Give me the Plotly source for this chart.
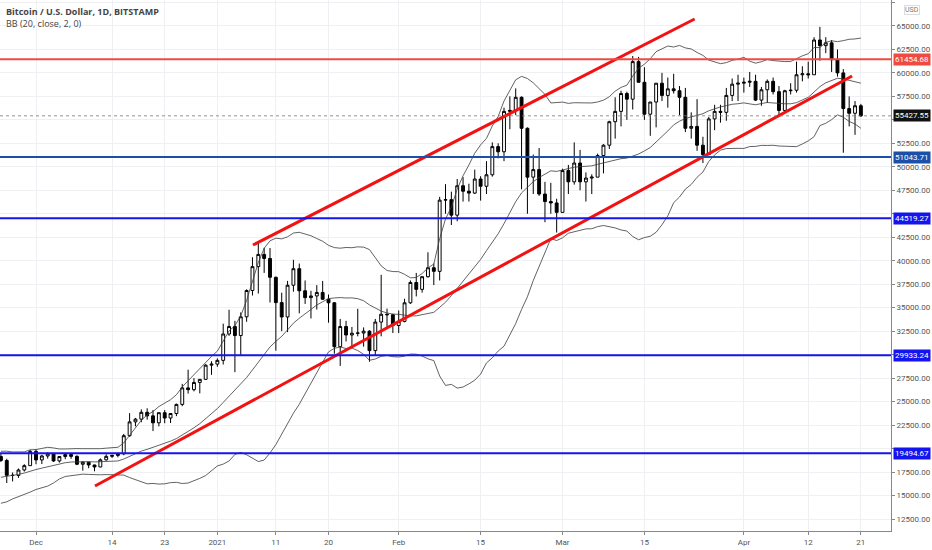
import pandas as pd
import plotly.graph_objects as go

# daily BTC/USD candles, 2020-11-25 .. 2021-04-21
opens = [
    19160, 18730, 17150, 17140, 17720, 18180,
    19700, 18790, 19210, 19440, 18680, 19150, 19360, 19170, 18330, 18550, 18250, 18040, 18800, 19170, 19270,
    19440, 21370, 22840, 23130, 23860, 23480, 22740, 23820, 23250, 23730, 24700, 26460, 26270, 27040, 27370, 28880,
    28990, 29390, 32200, 33000, 32030, 34030, 36830, 39370, 40670, 40240, 38240, 35540, 34010, 37390, 39150,
    36800, 36070, 36250, 36620, 35900, 35520, 30850, 33000, 32090, 32280, 32300, 32500, 30430, 33470, 34300, 34250,
    33100, 33540, 35520, 37680, 36950, 38300, 39250, 38870, 46450, 46500, 44850, 47980, 47400, 47200,
    48700, 47930, 49150, 52150, 51600, 55900, 56000, 57400, 54100, 48900, 49700, 47100, 46300, 46150,
    45150, 49600, 48400, 50400, 48400, 48800, 48900, 51200, 52300, 54800, 55900, 57800, 57200, 61200, 59000,
    55600, 56900, 58900, 57600, 58300, 58100, 57400, 54100, 54300, 52300, 51300, 55100, 55900, 55800, 57600, 58800,
    58900, 59000, 59100, 57100, 58200, 59100, 58000, 56000, 58100, 58150, 59800, 59900, 59800, 63500, 62900,
    63200, 61400, 60000, 56200, 55700, 56500,
]
highs = [
    19480, 18915, 17450, 17880, 18330, 19860,
    19920, 19330, 19600, 19510, 19180, 19420, 19420, 19280, 18650, 18560, 18280, 18950, 19400, 19340, 19560,
    21560, 23770, 23260, 24170, 24290, 24100, 23830, 24100, 23780, 24790, 26890, 28400, 27500, 27400, 28990, 29300,
    29600, 33300, 34780, 33600, 34500, 36950, 40370, 41950, 41380, 41350, 38300, 36600, 37850, 40100, 39700,
    37900, 36800, 37400, 37850, 36400, 35600, 33800, 33600, 32950, 34880, 32900, 32600, 33800, 38500, 34900, 34350,
    34700, 35950, 37900, 38700, 38300, 40900, 39700, 46800, 48150, 47350, 48700, 48900, 48200, 49700,
    49000, 50600, 52600, 52500, 56300, 57500, 58350, 57500, 54200, 51300, 52000, 48400, 48300, 46600,
    49800, 50200, 52600, 51800, 49400, 49200, 51400, 52400, 54900, 57400, 58100, 58000, 61800, 61700, 60600,
    56900, 58900, 60000, 59500, 59900, 58600, 58400, 55800, 57200, 53200, 55300, 56600, 56600, 58400, 59400, 59800,
    59500, 60100, 59800, 58500, 59300, 59500, 58600, 58200, 58900, 61200, 60700, 61200, 63800, 64900, 63800,
    63500, 62500, 60400, 57500, 57000, 56700,
]
lows = [
    18570, 16330, 16500, 16880, 17550, 18180,
    18330, 18350, 18930, 18580, 18510, 18870, 18910, 18230, 17650, 17910, 17580, 18020, 18720, 19000, 19070,
    19290, 21250, 22360, 22800, 23080, 21860, 22360, 22700, 22720, 23450, 24510, 25850, 26090, 25880, 27330, 27850,
    28700, 28950, 32000, 28130, 29900, 33500, 36300, 36500, 38700, 35550, 30420, 32500, 32400, 36700, 34400,
    35400, 33850, 34800, 35850, 33400, 30100, 28800, 31400, 30900, 31950, 30850, 29240, 29950, 31950, 32900, 32300,
    32300, 33440, 35400, 36200, 36600, 38200, 37400, 37900, 45000, 43800, 44200, 46300, 46300, 47100,
    46400, 47100, 48950, 50900, 50600, 54000, 55500, 47600, 45000, 47100, 46900, 44100, 45000, 43000,
    45100, 47100, 48100, 47500, 46300, 47100, 48900, 49300, 51900, 53000, 54300, 55000, 56100, 59000, 55000,
    53300, 54200, 57000, 56300, 57800, 55500, 53700, 53000, 51700, 50400, 51300, 53900, 54700, 54900, 57000, 57000,
    57900, 58500, 57000, 56500, 56800, 57700, 55500, 55800, 57700, 57900, 59100, 59400, 59800, 61300, 62100,
    60100, 59600, 51500, 54300, 53400, 55300,
]
closes = [
    18730, 17150, 17140, 17720, 18180, 19700,
    18790, 19210, 19440, 18680, 19150, 19360, 19170, 18330, 18550, 18250, 18040, 18800, 19170, 19270, 19440,
    21370, 22840, 23130, 23860, 23480, 22740, 23820, 23250, 23730, 24700, 26460, 26270, 27040, 27370, 28880, 28990,
    29390, 32200, 33000, 32030, 34030, 36830, 39370, 40670, 40240, 38240, 35540, 34010, 37390, 39150, 36800,
    36070, 36250, 36620, 35900, 35520, 30850, 33000, 32090, 32280, 32300, 32500, 30430, 33470, 34300, 34250, 33100,
    33540, 35520, 37680, 36950, 38300, 39250, 38870, 46450, 46500, 44850, 47980, 47400, 47200, 48700,
    47930, 49150, 52150, 51600, 55900, 56000, 57400, 54100, 48900, 49700, 47100, 46300, 46150, 45150,
    49600, 48400, 50400, 48400, 48800, 48900, 51200, 52300, 54800, 55900, 57800, 57200, 61200, 59000, 55600,
    56900, 58900, 57600, 58300, 58100, 57400, 54100, 54300, 52300, 51300, 55100, 55900, 55800, 57600, 58800, 58900,
    59000, 59100, 57100, 58200, 59100, 58000, 56000, 58100, 58150, 59800, 59900, 59800, 63500, 62900, 63200,
    61400, 60000, 56200, 55700, 56500, 55427.55,
]
# closes before the first visible candle, only needed for the bands
warmup_closes = [15580, 14830, 15480, 15330, 15300, 15700, 16280, 16330, 16070, 15960,
                 16720, 17660, 17800, 17820, 18660, 18700, 18420, 18370, 19160]

levels = [61454.68, 51043.71, 44519.27, 29933.24, 19494.67]
level_colors = ["#ef4a42", "#1b4fa8", "#1414ee", "#1414ee", "#1414ee"]
last_price = 55427.55

# trend channel (start, end)
upper_line_x = ["2021-01-07 02:00", "2021-03-23 14:00"]
upper_line_y = [41674, 65737]
lower_line_x = ["2020-12-11 02:00", "2021-04-19 12:00"]
lower_line_y = [16014, 59668]

tick_dates = ["2020-12-01", "2020-12-14", "2020-12-23", "2021-01-01", "2021-01-11", "2021-01-20",
              "2021-02-01", "2021-02-15", "2021-03-01", "2021-03-15", "2021-04-01", "2021-04-12", "2021-04-21"]
tick_text = ["Dec", "14", "23", "2021", "11", "20", "Feb", "15", "Mar", "15", "Apr", "12", "21"]

price_ticks = list(range(12500, 67501, 2500))
# labels hidden behind the level / last-price tags
hidden_ticks = [20000, 30000, 45000, 55000]
price_text = ["" if p in hidden_ticks else f"{p:.2f}" for p in price_ticks]

dates = pd.date_range("2020-11-25", periods=len(closes), freq="D")

# BB (20, close, 2)
s = pd.Series(warmup_closes + closes)
mid = s.rolling(20).mean()
sd = s.rolling(20).std(ddof=0)
n = len(warmup_closes)
bb_mid = mid[n:].values
bb_up = (mid + 2 * sd)[n:].values
bb_lo = (mid - 2 * sd)[n:].values

fig = go.Figure()

for band in (bb_up, bb_mid, bb_lo):
    fig.add_trace(go.Scatter(x=dates, y=band, mode="lines",
                             line=dict(color="#3a3a3a", width=0.8), hoverinfo="skip"))

fig.add_trace(go.Candlestick(
    x=dates, open=opens, high=highs, low=lows, close=closes,
    increasing=dict(fillcolor="white", line=dict(color="black", width=1)),
    decreasing=dict(fillcolor="black", line=dict(color="black", width=1)),
    whiskerwidth=0,
))

# dotted last-price line
fig.add_hline(y=last_price, line=dict(color="#777777", width=0.8, dash="dot"))

for lvl, col in zip(levels, level_colors):
    fig.add_hline(y=lvl, line=dict(color=col, width=2))
    fig.add_annotation(x=1, xref="paper", y=lvl, yref="y", xanchor="left", xshift=2,
                       text=f"{lvl:.2f}", showarrow=False, bgcolor=col, borderpad=1,
                       font=dict(color="white", size=8, family="Roboto"))

fig.add_annotation(x=1, xref="paper", y=last_price, yref="y", xanchor="left", xshift=2,
                   text=f"{last_price:.2f}", showarrow=False, bgcolor="#111111", borderpad=1,
                   font=dict(color="white", size=8, family="Roboto"))

for lx, ly in ((upper_line_x, upper_line_y), (lower_line_x, lower_line_y)):
    fig.add_trace(go.Scatter(x=lx, y=ly, mode="lines", line=dict(color="#f21212", width=3),
                             hoverinfo="skip"))

fig.add_annotation(x=0.005, xref="paper", y=0.995, yref="paper", xanchor="left", yanchor="top",
                   text="<b>Bitcoin / U.S. Dollar, 1D, BITSTAMP</b><br>BB (20, close, 2, 0)",
                   showarrow=False, align="left",
                   font=dict(color="#444444", size=9, family="Open Sans"))
fig.add_annotation(x=1, xref="paper", y=0.99, yref="paper", xanchor="left", xshift=13,
                   text="USD", showarrow=False, font=dict(color="#777777", size=7, family="Roboto"),
                   bordercolor="#dddddd", borderwidth=1, borderpad=0)

fig.update_layout(
    width=932, height=550,
    margin=dict(l=0, r=41, t=0, b=19),
    paper_bgcolor="white", plot_bgcolor="white",
    showlegend=False,
    xaxis=dict(
        type="date", range=["2020-11-24 20:18", "2021-04-26 03:36"],
        rangeslider=dict(visible=False),
        tickvals=tick_dates, ticktext=tick_text,
        showgrid=True, gridcolor="#eef0f4", gridwidth=1,
        showline=True, linecolor="#888888", linewidth=1,
        ticks="outside", ticklen=3, tickcolor="#888888",
        tickfont=dict(size=8, color="#555555", family="Roboto"),
        zeroline=False, fixedrange=True,
    ),
    yaxis=dict(
        side="right", range=[11222, 67760],
        tickvals=price_ticks, ticktext=price_text,
        showgrid=True, gridcolor="#eef0f4", gridwidth=1,
        showline=True, linecolor="#888888", linewidth=1,
        ticks="outside", ticklen=3, tickcolor="#888888",
        tickfont=dict(size=8, color="#555555", family="Roboto"),
        zeroline=False,
    ),
)

fig.write_html("out.html", config={"displayModeBar": False},
               post_script="document.body.style.margin='0';")
